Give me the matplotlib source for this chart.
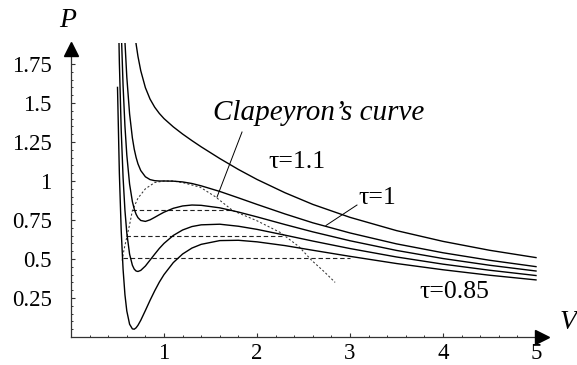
import matplotlib
matplotlib.use("Agg")
import matplotlib.pyplot as plt
from matplotlib.patches import Rectangle

plt.rcParams["font.family"] = ["Liberation Serif", "DejaVu Serif"]

# ---- data (reduced volume V, reduced pressure P) ----
V_grid = [0.50, 0.52, 0.54, 0.56, 0.58, 0.60, 0.63, 0.66, 0.68, 0.70, 0.72, 0.75,
          0.80, 0.85, 0.90, 0.95, 1.00, 1.10, 1.20, 1.30, 1.40, 1.60, 1.80, 2.00,
          2.30, 2.60, 3.00, 3.50, 4.00, 4.50, 5.00]

P_tau_085 = [1.60, 1.05, 0.68, 0.434, 0.271, 0.167, 0.082, 0.052, 0.050, 0.059, 0.075, 0.107,
             0.170, 0.235, 0.296, 0.352, 0.400, 0.477, 0.532, 0.570, 0.594, 0.618, 0.620, 0.610,
             0.586, 0.556, 0.517, 0.471, 0.431, 0.396, 0.366]
P_tau_090 = [2.40, 1.76, 1.325, 1.022, 0.812, 0.667, 0.531, 0.460, 0.435, 0.423, 0.420, 0.427,
             0.455, 0.493, 0.531, 0.568, 0.600, 0.651, 0.686, 0.708, 0.719, 0.723, 0.710, 0.690,
             0.653, 0.615, 0.567, 0.513, 0.467, 0.428, 0.394]
P_tau_095 = [3.20, 2.48, 1.97, 1.61, 1.352, 1.167, 0.980, 0.868, 0.820, 0.787, 0.765, 0.747,
             0.741, 0.751, 0.767, 0.784, 0.800, 0.825, 0.840, 0.846, 0.844, 0.828, 0.801, 0.770,
             0.721, 0.674, 0.617, 0.555, 0.503, 0.460, 0.423]
P_tau_100 = [4.00, 3.19, 2.615, 2.199, 1.893, 1.667, 1.430, 1.276, 1.204, 1.151, 1.110, 1.067,
             1.027, 1.009, 1.002, 1.000, 1.000, 0.999, 0.994, 0.984, 0.969, 0.933, 0.892, 0.850,
             0.789, 0.732, 0.667, 0.597, 0.540, 0.492, 0.451]
P_tau_110 = [5.60, 4.62, 3.906, 3.375, 2.974, 2.667, 2.329, 2.093, 1.974, 1.878, 1.799, 1.707,
             1.598, 1.525, 1.473, 1.433, 1.400, 1.347, 1.301, 1.259, 1.219, 1.144, 1.074, 1.010,
             0.925, 0.850, 0.767, 0.682, 0.613, 0.556, 0.509]

# horizontal (equal-area) lines: pressure, left V, right V
maxwell_P = [0.812, 0.647, 0.504]
maxwell_V_left = [0.66, 0.59, 0.555]
maxwell_V_right = [1.74, 2.27, 3.00]

# dotted "Clapeyron's curve"
clap_V = [0.55, 0.57, 0.60, 0.63, 0.66, 0.72, 0.80, 0.90, 1.00, 1.10, 1.20,
          1.39, 1.55, 1.74, 2.00, 2.25, 2.45, 2.59, 2.72, 2.84]
clap_P = [0.49, 0.56, 0.64, 0.72, 0.81, 0.89, 0.95, 0.99, 1.00, 1.00, 0.99,
          0.96, 0.90, 0.81, 0.745, 0.67, 0.58, 0.49, 0.42, 0.35]

x_ticks = [1, 2, 3, 4, 5]
y_ticks = [0.25, 0.5, 0.75, 1.0, 1.25, 1.5, 1.75]
y_tick_labels = ["0.25", "0.5", "0.75", "1", "1.25", "1.5", "1.75"]

# ---- figure ----
fig = plt.figure(figsize=(5.77, 3.65), dpi=100)
ax = fig.add_axes([0, 0, 1, 1])
ax.set_xlim(-71 / 93, 506 / 93)
ax.set_ylim(-28 / 156, 337 / 156)

# curves are cut at the height of the arrow tip
clip = Rectangle((0, -0.2), 6, 2.085, transform=ax.transData)

for P in [P_tau_085, P_tau_090, P_tau_095, P_tau_100, P_tau_110]:
    line, = ax.plot(V_grid, P, color="black", lw=1.0, zorder=3)
    line.set_clip_path(clip)

for p, v0, v1 in zip(maxwell_P, maxwell_V_left, maxwell_V_right):
    ax.plot([v0, v1], [p, p], color="#222222", lw=0.8, dashes=(4, 2.5), zorder=2)

ax.plot(clap_V, clap_P, color="#333333", lw=0.75, dashes=(2, 2), zorder=2)

# axes through the origin
for side in ["top", "right"]:
    ax.spines[side].set_visible(False)
ax.spines["left"].set_position(("data", 0))
ax.spines["bottom"].set_position(("data", 0))
ax.spines["left"].set_bounds(0, 1.84)
ax.spines["bottom"].set_bounds(0, 5.05)
for side in ["left", "bottom"]:
    ax.spines[side].set_linewidth(0.9)
    ax.spines[side].set_color("#333333")

ax.set_xticks(x_ticks)
ax.set_xticklabels([str(t) for t in x_ticks])
ax.set_xticks([i * 0.2 for i in range(1, 26)], minor=True)
ax.set_yticks(y_ticks)
ax.set_yticklabels(y_tick_labels)
ax.set_yticks([i * 0.05 for i in range(1, 37)], minor=True)
ax.tick_params(axis="both", which="both", direction="in", color="#333333", labelsize=16.5)
ax.tick_params(axis="both", which="major", length=3.2, width=0.8)
ax.tick_params(axis="both", which="minor", length=1.6, width=0.7)
ax.tick_params(axis="y", which="major", pad=14)
ax.tick_params(axis="x", which="major", pad=4)

# arrow heads
ax.plot([0], [1.843], marker="^", markersize=9.5, color="black", clip_on=False, zorder=5)
ax.plot([5.06], [0], marker=">", markersize=9.5, color="black", clip_on=False, zorder=5)

ax.text(-0.04, 2.03, "P", fontsize=20, style="italic", ha="center", va="center")
ax.text(5.34, 0.09, "V", fontsize=20, style="italic", ha="center", va="center")

# labels and leader lines
ax.text(1.53, 1.436, "Clapeyron\u2019s curve", fontsize=21, style="italic",
        ha="left", va="center")
ax.plot([1.839, 1.57], [1.314, 0.897], color="black", lw=0.7)
ax.text(2.43, 1.12, "τ=1.1", fontsize=18.5, ha="center", va="center")
ax.text(3.09, 0.89, "τ=1", fontsize=18.5, ha="left", va="center")
ax.plot([3.075, 2.742], [0.846, 0.715], color="black", lw=0.7)
ax.text(3.75, 0.29, "τ=0.85", fontsize=18.5, ha="left", va="center")

fig.savefig("out.png", dpi=100)
plt.close(fig)
